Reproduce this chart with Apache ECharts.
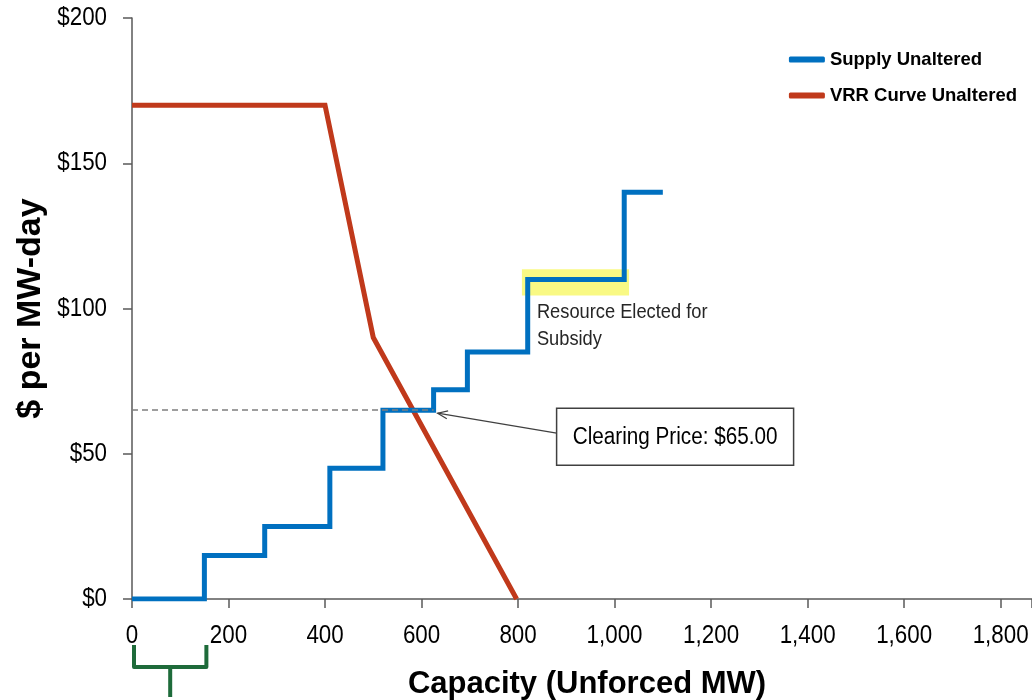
<!DOCTYPE html>
<html>
<head>
<meta charset="utf-8">
<script src="https://cdn.jsdelivr.net/npm/echarts@6/dist/echarts.min.js"></script>
<style>html,body{margin:0;padding:0;background:#fff}#c{width:1032px;height:700px}</style>
</head>
<body>
<div id="c"></div>
<script>
// Data
const supplyX = [0, 150, 150, 275, 275, 410, 410, 520, 520, 625, 625, 695, 695, 820, 820, 1020, 1020, 1100];
const supplyY = [0, 0, 15, 15, 25, 25, 45, 45, 65, 65, 72, 72, 85, 85, 110, 110, 140, 140];
const vrrX = [0, 400, 500, 797];
const vrrY = [170, 170, 90, 0];
const clearingPrice = 65;
const clearingQty = 625;
const subsidyRange = [[808, 104.5], [1030, 113.5]];
const braceRange = [0, 150];
const xTicks = [0, 200, 400, 600, 800, 1000, 1200, 1400, 1600, 1800];
const yTicks = [0, 50, 100, 150, 200];

const zip = (xs, ys) => xs.map((x, i) => [x, ys[i]]);

const chart = echarts.init(document.getElementById('c'), null, {renderer: 'canvas'});
const axisCol = '#595959';
const font = 'Liberation Sans, Arial, sans-serif';

const option = {
  animation: false,
  backgroundColor: '#fff',
  grid: {left: 132, right: 0, top: 18, bottom: 101, containLabel: false, outerBoundsMode: 'none'},
  legend: {
    right: 10, top: 45, orient: 'vertical', itemGap: 17,
    itemWidth: 36, itemHeight: 6,
    textStyle: {fontFamily: font, fontWeight: 'bold', fontSize: 18.5, color: '#000'},
    data: [
      {name: 'Supply Unaltered', icon: 'roundRect'},
      {name: 'VRR Curve Unaltered', icon: 'roundRect'}
    ]
  },
  xAxis: {
    type: 'value', min: 0, max: 1865, interval: 200,
    name: 'Capacity (Unforced MW)', nameLocation: 'middle', nameGap: 70,
    nameTextStyle: {fontFamily: font, fontWeight: 'bold', fontSize: 31, color: '#000', padding: [0,0,0,10]},
    axisLine: {show: true, lineStyle: {color: axisCol, width: 1.5}},
    axisTick: {show: true, inside: false, length: 9, lineStyle: {color: axisCol, width: 1.5}},
    axisLabel: {show: false},
    splitLine: {show: false}
  },
  yAxis: {
    type: 'value', min: 0, max: 200, interval: 50,
    name: '$ per MW-day', nameLocation: 'middle', nameGap: 84,
    nameTextStyle: {fontFamily: font, fontWeight: 'bold', fontSize: 34, color: '#000'},
    axisLine: {show: true, lineStyle: {color: axisCol, width: 1.5}},
    axisTick: {show: true, inside: false, length: 9, lineStyle: {color: axisCol, width: 1.5}},
    axisLabel: {show: false},
    splitLine: {show: false}
  },
  series: [
    {
      name: 'Supply Unaltered', type: 'line', data: zip(supplyX, supplyY),
      showSymbol: false, symbol: 'none', z: 3,
      lineStyle: {color: '#0070C0', width: 5, join: 'miter', cap: 'butt'},
      itemStyle: {color: '#0070C0'},
      markLine: {
        silent: true, symbol: ['none', 'none'], label: {show: false},
        lineStyle: {color: '#7f7f7f', type: [6, 4], width: 1.5},
        data: [[{coord: [0, clearingPrice]}, {coord: [clearingQty, clearingPrice]}]]
      }
    },
    {
      name: 'VRR Curve Unaltered', type: 'line', data: zip(vrrX, vrrY),
      showSymbol: false, symbol: 'none', z: 2,
      lineStyle: {color: '#C0391B', width: 5, join: 'miter', cap: 'butt'},
      itemStyle: {color: '#C0391B'}
    },
    {
      name: 'highlight', type: 'line', data: [], z: 10,
      markArea: {
        silent: true,
        itemStyle: {color: 'rgba(245, 245, 50, 0.6)'},
        data: [[{coord: subsidyRange[0]}, {coord: subsidyRange[1]}]]
      }
    }
  ]
};
chart.setOption(option);

function addGraphics() {
  const px = (x, y) => chart.convertToPixel({gridIndex: 0}, [x, y]);
  const cp = px(clearingQty, clearingPrice);
  const subsidyPt = px(subsidyRange[0][0], subsidyRange[0][1]);
  const b0 = px(braceRange[0], 0);
  const b1 = px(braceRange[1], 0);
  const boxX = cp[0] + 123, boxY = cp[1] - 2, boxW = 237, boxH = 57;
  const bx0 = b0[0] + 2, bx1 = b1[0] + 2, bmid = (bx0 + bx1) / 2;
  const by0 = b0[1] + 46, by1 = b0[1] + 68, by2 = b0[1] + 98;
  const g = [];
  // tick labels (condensed)
  xTicks.forEach(v => {
    const p = px(v, 0);
    g.push({type: 'text', z: 20, x: p[0], y: p[1] + 37, scaleX: 0.86,
      style: {text: v.toLocaleString('en-US'), fontFamily: font, fontSize: 26, fill: '#000', align: 'center', verticalAlign: 'middle'}});
  });
  yTicks.forEach(v => {
    const p = px(0, v);
    g.push({type: 'text', z: 20, x: p[0] - 25, y: p[1], scaleX: 0.86,
      style: {text: '$' + v, fontFamily: font, fontSize: 26, fill: '#000', align: 'right', verticalAlign: 'middle'}});
  });
  // clearing price callout
  const ax = cp[0] + 4, ay = cp[1] + 3;
  const ex = boxX, ey = boxY + 25;
  const dx = ex - ax, dy = ey - ay, L = Math.hypot(dx, dy), ux = dx / L, uy = dy / L;
  g.push(
    {type: 'line', z: 20, shape: {x1: ex, y1: ey, x2: ax, y2: ay}, style: {stroke: '#404040', lineWidth: 1.2}},
    {type: 'polyline', z: 20, shape: {points: [[ax + ux * 10 - uy * 4, ay + uy * 10 + ux * 4], [ax, ay], [ax + ux * 10 + uy * 4, ay + uy * 10 - ux * 4]]},
     style: {stroke: '#404040', lineWidth: 1.2, fill: null}},
    {type: 'rect', z: 20, shape: {x: boxX, y: boxY, width: boxW, height: boxH},
     style: {fill: '#fff', stroke: '#404040', lineWidth: 1.5}},
    {type: 'text', z: 21, x: boxX + boxW / 2, y: boxY + boxH / 2 + 1, scaleX: 0.9,
     style: {text: 'Clearing Price: $65.00', fontFamily: font, fontSize: 23, fill: '#000', align: 'center', verticalAlign: 'middle'}},
    {type: 'text', z: 21, x: subsidyPt[0] + 15, y: subsidyPt[1] + 3, scaleX: 0.87,
     style: {text: 'Resource Elected for\nSubsidy', fontFamily: font, fontSize: 21, lineHeight: 27, fill: '#262626', align: 'left', verticalAlign: 'top'}},
    {type: 'polyline', z: 20, shape: {points: [[bx0, by0], [bx0, by1], [bx1, by1], [bx1, by0]]},
     style: {stroke: '#1E6B3A', lineWidth: 4, fill: null, lineJoin: 'round'}},
    {type: 'line', z: 20, shape: {x1: bmid, y1: by1, x2: bmid, y2: by2},
     style: {stroke: '#1E6B3A', lineWidth: 4}}
  );
  chart.setOption({graphic: g});
}
addGraphics();
</script>
</body>
</html>
